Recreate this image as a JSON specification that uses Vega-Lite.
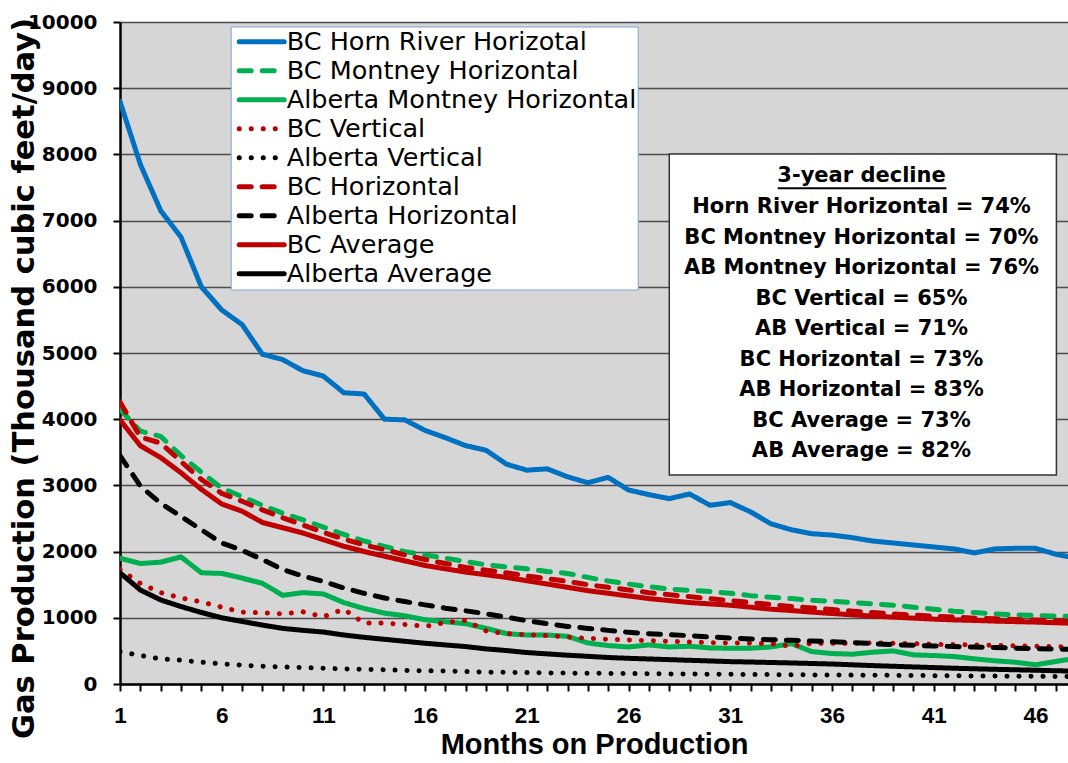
{
"$schema": "https://vega.github.io/schema/vega-lite/v6.json",
"width": 948,
"height": 662,
"autosize": {"type": "none"},
"padding": {"left": 120, "top": 22, "right": 0, "bottom": 79},
"background": "white",
"config": {
  "view": {"fill": "#d6d6d6", "stroke": null},
  "axis": {"labelOverlap": false, "labelFlush": false, "labelFontWeight": "bold", "labelColor": "black"},
  "axisX": {"labelFontSize": 22.5, "labelFont": "Liberation Sans"},
  "axisY": {"labelFontSize": 20, "labelFont": "DejaVu Sans"},
  "legend": {
    "title": null, "orient": "none", "legendX": 110.7, "legendY": 4.5, "direction": "vertical",
    "fillColor": "white", "strokeColor": "#7ea6d6", "padding": 1,
    "symbolType": "stroke", "symbolSize": 2025, "symbolOffset": 5, "symbolStrokeWidth": 5,
    "labelOffset": 0, "labelFont": "DejaVu Sans", "labelFontSize": 25.5, "labelColor": "black",
    "labelLimit": 600, "rowPadding": 0, "clipHeight": 28.7
  }
},
"layer": [
{
  "data": {"values": [
{"series":"BC Horn River Horizotal","month":1,"gas":8800},{"series":"BC Horn River Horizotal","month":2,"gas":7850},{"series":"BC Horn River Horizotal","month":3,"gas":7150},{"series":"BC Horn River Horizotal","month":4,"gas":6750},{"series":"BC Horn River Horizotal","month":5,"gas":6000},{"series":"BC Horn River Horizotal","month":6,"gas":5650},{"series":"BC Horn River Horizotal","month":7,"gas":5430},{"series":"BC Horn River Horizotal","month":8,"gas":4980},{"series":"BC Horn River Horizotal","month":9,"gas":4900},{"series":"BC Horn River Horizotal","month":10,"gas":4730},{"series":"BC Horn River Horizotal","month":11,"gas":4650},{"series":"BC Horn River Horizotal","month":12,"gas":4400},{"series":"BC Horn River Horizotal","month":13,"gas":4380},{"series":"BC Horn River Horizotal","month":14,"gas":4000},{"series":"BC Horn River Horizotal","month":15,"gas":3990},{"series":"BC Horn River Horizotal","month":16,"gas":3830},{"series":"BC Horn River Horizotal","month":17,"gas":3720},{"series":"BC Horn River Horizotal","month":18,"gas":3600},{"series":"BC Horn River Horizotal","month":19,"gas":3530},{"series":"BC Horn River Horizotal","month":20,"gas":3320},{"series":"BC Horn River Horizotal","month":21,"gas":3230},{"series":"BC Horn River Horizotal","month":22,"gas":3250},{"series":"BC Horn River Horizotal","month":23,"gas":3130},{"series":"BC Horn River Horizotal","month":24,"gas":3040},{"series":"BC Horn River Horizotal","month":25,"gas":3120},{"series":"BC Horn River Horizotal","month":26,"gas":2930},{"series":"BC Horn River Horizotal","month":27,"gas":2860},{"series":"BC Horn River Horizotal","month":28,"gas":2800},{"series":"BC Horn River Horizotal","month":29,"gas":2870},{"series":"BC Horn River Horizotal","month":30,"gas":2700},{"series":"BC Horn River Horizotal","month":31,"gas":2740},{"series":"BC Horn River Horizotal","month":32,"gas":2600},{"series":"BC Horn River Horizotal","month":33,"gas":2420},{"series":"BC Horn River Horizotal","month":34,"gas":2330},{"series":"BC Horn River Horizotal","month":35,"gas":2270},{"series":"BC Horn River Horizotal","month":36,"gas":2250},{"series":"BC Horn River Horizotal","month":37,"gas":2210},{"series":"BC Horn River Horizotal","month":38,"gas":2160},{"series":"BC Horn River Horizotal","month":39,"gas":2130},{"series":"BC Horn River Horizotal","month":40,"gas":2100},{"series":"BC Horn River Horizotal","month":41,"gas":2070},{"series":"BC Horn River Horizotal","month":42,"gas":2040},{"series":"BC Horn River Horizotal","month":43,"gas":1980},{"series":"BC Horn River Horizotal","month":44,"gas":2040},{"series":"BC Horn River Horizotal","month":45,"gas":2050},{"series":"BC Horn River Horizotal","month":46,"gas":2050},{"series":"BC Horn River Horizotal","month":47,"gas":1960},{"series":"BC Horn River Horizotal","month":48,"gas":1900},
{"series":"BC Montney Horizontal","month":1,"gas":4150},{"series":"BC Montney Horizontal","month":2,"gas":3820},{"series":"BC Montney Horizontal","month":3,"gas":3740},{"series":"BC Montney Horizontal","month":4,"gas":3450},{"series":"BC Montney Horizontal","month":5,"gas":3200},{"series":"BC Montney Horizontal","month":6,"gas":2960},{"series":"BC Montney Horizontal","month":7,"gas":2830},{"series":"BC Montney Horizontal","month":8,"gas":2700},{"series":"BC Montney Horizontal","month":9,"gas":2580},{"series":"BC Montney Horizontal","month":10,"gas":2480},{"series":"BC Montney Horizontal","month":11,"gas":2370},{"series":"BC Montney Horizontal","month":12,"gas":2260},{"series":"BC Montney Horizontal","month":13,"gas":2160},{"series":"BC Montney Horizontal","month":14,"gas":2080},{"series":"BC Montney Horizontal","month":15,"gas":2000},{"series":"BC Montney Horizontal","month":16,"gas":1950},{"series":"BC Montney Horizontal","month":17,"gas":1900},{"series":"BC Montney Horizontal","month":18,"gas":1850},{"series":"BC Montney Horizontal","month":19,"gas":1800},{"series":"BC Montney Horizontal","month":20,"gas":1770},{"series":"BC Montney Horizontal","month":21,"gas":1740},{"series":"BC Montney Horizontal","month":22,"gas":1700},{"series":"BC Montney Horizontal","month":23,"gas":1670},{"series":"BC Montney Horizontal","month":24,"gas":1610},{"series":"BC Montney Horizontal","month":25,"gas":1555},{"series":"BC Montney Horizontal","month":26,"gas":1510},{"series":"BC Montney Horizontal","month":27,"gas":1470},{"series":"BC Montney Horizontal","month":28,"gas":1435},{"series":"BC Montney Horizontal","month":29,"gas":1415},{"series":"BC Montney Horizontal","month":30,"gas":1398},{"series":"BC Montney Horizontal","month":31,"gas":1370},{"series":"BC Montney Horizontal","month":32,"gas":1335},{"series":"BC Montney Horizontal","month":33,"gas":1310},{"series":"BC Montney Horizontal","month":34,"gas":1290},{"series":"BC Montney Horizontal","month":35,"gas":1265},{"series":"BC Montney Horizontal","month":36,"gas":1250},{"series":"BC Montney Horizontal","month":37,"gas":1230},{"series":"BC Montney Horizontal","month":38,"gas":1210},{"series":"BC Montney Horizontal","month":39,"gas":1190},{"series":"BC Montney Horizontal","month":40,"gas":1160},{"series":"BC Montney Horizontal","month":41,"gas":1130},{"series":"BC Montney Horizontal","month":42,"gas":1100},{"series":"BC Montney Horizontal","month":43,"gas":1080},{"series":"BC Montney Horizontal","month":44,"gas":1060},{"series":"BC Montney Horizontal","month":45,"gas":1045},{"series":"BC Montney Horizontal","month":46,"gas":1035},{"series":"BC Montney Horizontal","month":47,"gas":1025},{"series":"BC Montney Horizontal","month":48,"gas":1020},
{"series":"Alberta Montney Horizontal","month":1,"gas":1900},{"series":"Alberta Montney Horizontal","month":2,"gas":1820},{"series":"Alberta Montney Horizontal","month":3,"gas":1840},{"series":"Alberta Montney Horizontal","month":4,"gas":1920},{"series":"Alberta Montney Horizontal","month":5,"gas":1680},{"series":"Alberta Montney Horizontal","month":6,"gas":1670},{"series":"Alberta Montney Horizontal","month":7,"gas":1600},{"series":"Alberta Montney Horizontal","month":8,"gas":1520},{"series":"Alberta Montney Horizontal","month":9,"gas":1340},{"series":"Alberta Montney Horizontal","month":10,"gas":1380},{"series":"Alberta Montney Horizontal","month":11,"gas":1360},{"series":"Alberta Montney Horizontal","month":12,"gas":1230},{"series":"Alberta Montney Horizontal","month":13,"gas":1140},{"series":"Alberta Montney Horizontal","month":14,"gas":1070},{"series":"Alberta Montney Horizontal","month":15,"gas":1030},{"series":"Alberta Montney Horizontal","month":16,"gas":970},{"series":"Alberta Montney Horizontal","month":17,"gas":940},{"series":"Alberta Montney Horizontal","month":18,"gas":910},{"series":"Alberta Montney Horizontal","month":19,"gas":840},{"series":"Alberta Montney Horizontal","month":20,"gas":760},{"series":"Alberta Montney Horizontal","month":21,"gas":740},{"series":"Alberta Montney Horizontal","month":22,"gas":740},{"series":"Alberta Montney Horizontal","month":23,"gas":720},{"series":"Alberta Montney Horizontal","month":24,"gas":620},{"series":"Alberta Montney Horizontal","month":25,"gas":580},{"series":"Alberta Montney Horizontal","month":26,"gas":560},{"series":"Alberta Montney Horizontal","month":27,"gas":590},{"series":"Alberta Montney Horizontal","month":28,"gas":560},{"series":"Alberta Montney Horizontal","month":29,"gas":570},{"series":"Alberta Montney Horizontal","month":30,"gas":545},{"series":"Alberta Montney Horizontal","month":31,"gas":540},{"series":"Alberta Montney Horizontal","month":32,"gas":540},{"series":"Alberta Montney Horizontal","month":33,"gas":560},{"series":"Alberta Montney Horizontal","month":34,"gas":610},{"series":"Alberta Montney Horizontal","month":35,"gas":490},{"series":"Alberta Montney Horizontal","month":36,"gas":460},{"series":"Alberta Montney Horizontal","month":37,"gas":450},{"series":"Alberta Montney Horizontal","month":38,"gas":480},{"series":"Alberta Montney Horizontal","month":39,"gas":500},{"series":"Alberta Montney Horizontal","month":40,"gas":440},{"series":"Alberta Montney Horizontal","month":41,"gas":430},{"series":"Alberta Montney Horizontal","month":42,"gas":415},{"series":"Alberta Montney Horizontal","month":43,"gas":380},{"series":"Alberta Montney Horizontal","month":44,"gas":350},{"series":"Alberta Montney Horizontal","month":45,"gas":330},{"series":"Alberta Montney Horizontal","month":46,"gas":290},{"series":"Alberta Montney Horizontal","month":47,"gas":340},{"series":"Alberta Montney Horizontal","month":48,"gas":390},
{"series":"BC Vertical","month":1,"gas":1730},{"series":"BC Vertical","month":2,"gas":1520},{"series":"BC Vertical","month":3,"gas":1380},{"series":"BC Vertical","month":4,"gas":1300},{"series":"BC Vertical","month":5,"gas":1240},{"series":"BC Vertical","month":6,"gas":1160},{"series":"BC Vertical","month":7,"gas":1085},{"series":"BC Vertical","month":8,"gas":1075},{"series":"BC Vertical","month":9,"gas":1060},{"series":"BC Vertical","month":10,"gas":1090},{"series":"BC Vertical","month":11,"gas":1015},{"series":"BC Vertical","month":12,"gas":1130},{"series":"BC Vertical","month":13,"gas":920},{"series":"BC Vertical","month":14,"gas":920},{"series":"BC Vertical","month":15,"gas":900},{"series":"BC Vertical","month":16,"gas":870},{"series":"BC Vertical","month":17,"gas":930},{"series":"BC Vertical","month":18,"gas":960},{"series":"BC Vertical","month":19,"gas":800},{"series":"BC Vertical","month":20,"gas":760},{"series":"BC Vertical","month":21,"gas":745},{"series":"BC Vertical","month":22,"gas":730},{"series":"BC Vertical","month":23,"gas":710},{"series":"BC Vertical","month":24,"gas":690},{"series":"BC Vertical","month":25,"gas":675},{"series":"BC Vertical","month":26,"gas":665},{"series":"BC Vertical","month":27,"gas":655},{"series":"BC Vertical","month":28,"gas":645},{"series":"BC Vertical","month":29,"gas":635},{"series":"BC Vertical","month":30,"gas":625},{"series":"BC Vertical","month":31,"gas":620},{"series":"BC Vertical","month":32,"gas":615},{"series":"BC Vertical","month":33,"gas":610},{"series":"BC Vertical","month":34,"gas":570},{"series":"BC Vertical","month":35,"gas":615},{"series":"BC Vertical","month":36,"gas":615},{"series":"BC Vertical","month":37,"gas":615},{"series":"BC Vertical","month":38,"gas":620},{"series":"BC Vertical","month":39,"gas":615},{"series":"BC Vertical","month":40,"gas":610},{"series":"BC Vertical","month":41,"gas":600},{"series":"BC Vertical","month":42,"gas":595},{"series":"BC Vertical","month":43,"gas":590},{"series":"BC Vertical","month":44,"gas":585},{"series":"BC Vertical","month":45,"gas":575},{"series":"BC Vertical","month":46,"gas":570},{"series":"BC Vertical","month":47,"gas":565},{"series":"BC Vertical","month":48,"gas":560},
{"series":"Alberta Vertical","month":1,"gas":490},{"series":"Alberta Vertical","month":2,"gas":430},{"series":"Alberta Vertical","month":3,"gas":380},{"series":"Alberta Vertical","month":4,"gas":360},{"series":"Alberta Vertical","month":5,"gas":330},{"series":"Alberta Vertical","month":6,"gas":305},{"series":"Alberta Vertical","month":7,"gas":285},{"series":"Alberta Vertical","month":8,"gas":268},{"series":"Alberta Vertical","month":9,"gas":258},{"series":"Alberta Vertical","month":10,"gas":248},{"series":"Alberta Vertical","month":11,"gas":238},{"series":"Alberta Vertical","month":12,"gas":228},{"series":"Alberta Vertical","month":13,"gas":222},{"series":"Alberta Vertical","month":14,"gas":215},{"series":"Alberta Vertical","month":15,"gas":205},{"series":"Alberta Vertical","month":16,"gas":200},{"series":"Alberta Vertical","month":17,"gas":195},{"series":"Alberta Vertical","month":18,"gas":188},{"series":"Alberta Vertical","month":19,"gas":180},{"series":"Alberta Vertical","month":20,"gas":176},{"series":"Alberta Vertical","month":21,"gas":172},{"series":"Alberta Vertical","month":22,"gas":168},{"series":"Alberta Vertical","month":23,"gas":165},{"series":"Alberta Vertical","month":24,"gas":162},{"series":"Alberta Vertical","month":25,"gas":160},{"series":"Alberta Vertical","month":26,"gas":158},{"series":"Alberta Vertical","month":27,"gas":155},{"series":"Alberta Vertical","month":28,"gas":152},{"series":"Alberta Vertical","month":29,"gas":150},{"series":"Alberta Vertical","month":30,"gas":148},{"series":"Alberta Vertical","month":31,"gas":146},{"series":"Alberta Vertical","month":32,"gas":144},{"series":"Alberta Vertical","month":33,"gas":142},{"series":"Alberta Vertical","month":34,"gas":140},{"series":"Alberta Vertical","month":35,"gas":138},{"series":"Alberta Vertical","month":36,"gas":136},{"series":"Alberta Vertical","month":37,"gas":134},{"series":"Alberta Vertical","month":38,"gas":132},{"series":"Alberta Vertical","month":39,"gas":130},{"series":"Alberta Vertical","month":40,"gas":128},{"series":"Alberta Vertical","month":41,"gas":126},{"series":"Alberta Vertical","month":42,"gas":124},{"series":"Alberta Vertical","month":43,"gas":122},{"series":"Alberta Vertical","month":44,"gas":120},{"series":"Alberta Vertical","month":45,"gas":118},{"series":"Alberta Vertical","month":46,"gas":116},{"series":"Alberta Vertical","month":47,"gas":114},{"series":"Alberta Vertical","month":48,"gas":112},
{"series":"BC Horizontal","month":1,"gas":4260},{"series":"BC Horizontal","month":2,"gas":3730},{"series":"BC Horizontal","month":3,"gas":3640},{"series":"BC Horizontal","month":4,"gas":3360},{"series":"BC Horizontal","month":5,"gas":3090},{"series":"BC Horizontal","month":6,"gas":2880},{"series":"BC Horizontal","month":7,"gas":2760},{"series":"BC Horizontal","month":8,"gas":2630},{"series":"BC Horizontal","month":9,"gas":2510},{"series":"BC Horizontal","month":10,"gas":2400},{"series":"BC Horizontal","month":11,"gas":2290},{"series":"BC Horizontal","month":12,"gas":2190},{"series":"BC Horizontal","month":13,"gas":2100},{"series":"BC Horizontal","month":14,"gas":2030},{"series":"BC Horizontal","month":15,"gas":1950},{"series":"BC Horizontal","month":16,"gas":1880},{"series":"BC Horizontal","month":17,"gas":1820},{"series":"BC Horizontal","month":18,"gas":1760},{"series":"BC Horizontal","month":19,"gas":1720},{"series":"BC Horizontal","month":20,"gas":1680},{"series":"BC Horizontal","month":21,"gas":1630},{"series":"BC Horizontal","month":22,"gas":1590},{"series":"BC Horizontal","month":23,"gas":1550},{"series":"BC Horizontal","month":24,"gas":1500},{"series":"BC Horizontal","month":25,"gas":1460},{"series":"BC Horizontal","month":26,"gas":1420},{"series":"BC Horizontal","month":27,"gas":1380},{"series":"BC Horizontal","month":28,"gas":1350},{"series":"BC Horizontal","month":29,"gas":1320},{"series":"BC Horizontal","month":30,"gas":1290},{"series":"BC Horizontal","month":31,"gas":1260},{"series":"BC Horizontal","month":32,"gas":1230},{"series":"BC Horizontal","month":33,"gas":1200},{"series":"BC Horizontal","month":34,"gas":1170},{"series":"BC Horizontal","month":35,"gas":1150},{"series":"BC Horizontal","month":36,"gas":1125},{"series":"BC Horizontal","month":37,"gas":1100},{"series":"BC Horizontal","month":38,"gas":1080},{"series":"BC Horizontal","month":39,"gas":1060},{"series":"BC Horizontal","month":40,"gas":1040},{"series":"BC Horizontal","month":41,"gas":1025},{"series":"BC Horizontal","month":42,"gas":1010},{"series":"BC Horizontal","month":43,"gas":995},{"series":"BC Horizontal","month":44,"gas":985},{"series":"BC Horizontal","month":45,"gas":975},{"series":"BC Horizontal","month":46,"gas":965},{"series":"BC Horizontal","month":47,"gas":955},{"series":"BC Horizontal","month":48,"gas":945},
{"series":"Alberta Horizontal","month":1,"gas":3450},{"series":"Alberta Horizontal","month":2,"gas":2990},{"series":"Alberta Horizontal","month":3,"gas":2730},{"series":"Alberta Horizontal","month":4,"gas":2530},{"series":"Alberta Horizontal","month":5,"gas":2330},{"series":"Alberta Horizontal","month":6,"gas":2130},{"series":"Alberta Horizontal","month":7,"gas":2020},{"series":"Alberta Horizontal","month":8,"gas":1880},{"series":"Alberta Horizontal","month":9,"gas":1730},{"series":"Alberta Horizontal","month":10,"gas":1630},{"series":"Alberta Horizontal","month":11,"gas":1550},{"series":"Alberta Horizontal","month":12,"gas":1450},{"series":"Alberta Horizontal","month":13,"gas":1370},{"series":"Alberta Horizontal","month":14,"gas":1300},{"series":"Alberta Horizontal","month":15,"gas":1245},{"series":"Alberta Horizontal","month":16,"gas":1195},{"series":"Alberta Horizontal","month":17,"gas":1145},{"series":"Alberta Horizontal","month":18,"gas":1105},{"series":"Alberta Horizontal","month":19,"gas":1060},{"series":"Alberta Horizontal","month":20,"gas":1010},{"series":"Alberta Horizontal","month":21,"gas":955},{"series":"Alberta Horizontal","month":22,"gas":910},{"series":"Alberta Horizontal","month":23,"gas":870},{"series":"Alberta Horizontal","month":24,"gas":840},{"series":"Alberta Horizontal","month":25,"gas":810},{"series":"Alberta Horizontal","month":26,"gas":780},{"series":"Alberta Horizontal","month":27,"gas":760},{"series":"Alberta Horizontal","month":28,"gas":745},{"series":"Alberta Horizontal","month":29,"gas":730},{"series":"Alberta Horizontal","month":30,"gas":710},{"series":"Alberta Horizontal","month":31,"gas":695},{"series":"Alberta Horizontal","month":32,"gas":680},{"series":"Alberta Horizontal","month":33,"gas":670},{"series":"Alberta Horizontal","month":34,"gas":660},{"series":"Alberta Horizontal","month":35,"gas":650},{"series":"Alberta Horizontal","month":36,"gas":640},{"series":"Alberta Horizontal","month":37,"gas":625},{"series":"Alberta Horizontal","month":38,"gas":610},{"series":"Alberta Horizontal","month":39,"gas":595},{"series":"Alberta Horizontal","month":40,"gas":585},{"series":"Alberta Horizontal","month":41,"gas":575},{"series":"Alberta Horizontal","month":42,"gas":565},{"series":"Alberta Horizontal","month":43,"gas":558},{"series":"Alberta Horizontal","month":44,"gas":550},{"series":"Alberta Horizontal","month":45,"gas":542},{"series":"Alberta Horizontal","month":46,"gas":535},{"series":"Alberta Horizontal","month":47,"gas":528},{"series":"Alberta Horizontal","month":48,"gas":520},
{"series":"BC Average","month":1,"gas":3990},{"series":"BC Average","month":2,"gas":3600},{"series":"BC Average","month":3,"gas":3420},{"series":"BC Average","month":4,"gas":3190},{"series":"BC Average","month":5,"gas":2940},{"series":"BC Average","month":6,"gas":2720},{"series":"BC Average","month":7,"gas":2610},{"series":"BC Average","month":8,"gas":2440},{"series":"BC Average","month":9,"gas":2360},{"series":"BC Average","month":10,"gas":2280},{"series":"BC Average","month":11,"gas":2180},{"series":"BC Average","month":12,"gas":2080},{"series":"BC Average","month":13,"gas":2000},{"series":"BC Average","month":14,"gas":1930},{"series":"BC Average","month":15,"gas":1860},{"series":"BC Average","month":16,"gas":1790},{"series":"BC Average","month":17,"gas":1740},{"series":"BC Average","month":18,"gas":1690},{"series":"BC Average","month":19,"gas":1650},{"series":"BC Average","month":20,"gas":1610},{"series":"BC Average","month":21,"gas":1560},{"series":"BC Average","month":22,"gas":1510},{"series":"BC Average","month":23,"gas":1460},{"series":"BC Average","month":24,"gas":1410},{"series":"BC Average","month":25,"gas":1370},{"series":"BC Average","month":26,"gas":1330},{"series":"BC Average","month":27,"gas":1290},{"series":"BC Average","month":28,"gas":1260},{"series":"BC Average","month":29,"gas":1230},{"series":"BC Average","month":30,"gas":1210},{"series":"BC Average","month":31,"gas":1190},{"series":"BC Average","month":32,"gas":1160},{"series":"BC Average","month":33,"gas":1130},{"series":"BC Average","month":34,"gas":1110},{"series":"BC Average","month":35,"gas":1085},{"series":"BC Average","month":36,"gas":1065},{"series":"BC Average","month":37,"gas":1045},{"series":"BC Average","month":38,"gas":1025},{"series":"BC Average","month":39,"gas":1010},{"series":"BC Average","month":40,"gas":995},{"series":"BC Average","month":41,"gas":980},{"series":"BC Average","month":42,"gas":968},{"series":"BC Average","month":43,"gas":960},{"series":"BC Average","month":44,"gas":950},{"series":"BC Average","month":45,"gas":942},{"series":"BC Average","month":46,"gas":935},{"series":"BC Average","month":47,"gas":925},{"series":"BC Average","month":48,"gas":915},
{"series":"Alberta Average","month":1,"gas":1680},{"series":"Alberta Average","month":2,"gas":1420},{"series":"Alberta Average","month":3,"gas":1270},{"series":"Alberta Average","month":4,"gas":1170},{"series":"Alberta Average","month":5,"gas":1080},{"series":"Alberta Average","month":6,"gas":1000},{"series":"Alberta Average","month":7,"gas":945},{"series":"Alberta Average","month":8,"gas":890},{"series":"Alberta Average","month":9,"gas":840},{"series":"Alberta Average","month":10,"gas":810},{"series":"Alberta Average","month":11,"gas":785},{"series":"Alberta Average","month":12,"gas":740},{"series":"Alberta Average","month":13,"gas":705},{"series":"Alberta Average","month":14,"gas":675},{"series":"Alberta Average","month":15,"gas":645},{"series":"Alberta Average","month":16,"gas":615},{"series":"Alberta Average","month":17,"gas":590},{"series":"Alberta Average","month":18,"gas":565},{"series":"Alberta Average","month":19,"gas":530},{"series":"Alberta Average","month":20,"gas":505},{"series":"Alberta Average","month":21,"gas":475},{"series":"Alberta Average","month":22,"gas":455},{"series":"Alberta Average","month":23,"gas":435},{"series":"Alberta Average","month":24,"gas":418},{"series":"Alberta Average","month":25,"gas":400},{"series":"Alberta Average","month":26,"gas":388},{"series":"Alberta Average","month":27,"gas":378},{"series":"Alberta Average","month":28,"gas":368},{"series":"Alberta Average","month":29,"gas":358},{"series":"Alberta Average","month":30,"gas":348},{"series":"Alberta Average","month":31,"gas":338},{"series":"Alberta Average","month":32,"gas":332},{"series":"Alberta Average","month":33,"gas":325},{"series":"Alberta Average","month":34,"gas":318},{"series":"Alberta Average","month":35,"gas":310},{"series":"Alberta Average","month":36,"gas":302},{"series":"Alberta Average","month":37,"gas":290},{"series":"Alberta Average","month":38,"gas":278},{"series":"Alberta Average","month":39,"gas":268},{"series":"Alberta Average","month":40,"gas":258},{"series":"Alberta Average","month":41,"gas":248},{"series":"Alberta Average","month":42,"gas":238},{"series":"Alberta Average","month":43,"gas":230},{"series":"Alberta Average","month":44,"gas":222},{"series":"Alberta Average","month":45,"gas":215},{"series":"Alberta Average","month":46,"gas":208},{"series":"Alberta Average","month":47,"gas":200},{"series":"Alberta Average","month":48,"gas":195}
  ]},
  "mark": {"type": "line", "clip": true, "strokeCap": "round", "strokeJoin": "round"},
  "encoding": {
    "x": {"field": "month", "type": "quantitative",
      "scale": {"domain": [1, 47.6], "nice": false, "zero": false},
      "axis": {"values": [1,2,3,4,5,6,7,8,9,10,11,12,13,14,15,16,17,18,19,20,21,22,23,24,25,26,27,28,29,30,31,32,33,34,35,36,37,38,39,40,41,42,43,44,45,46,47], "labelExpr": "(datum.value - 1) % 5 === 0 ? datum.label : ''", "title": "Months on Production", "titleFont": "Liberation Sans", "titleFontSize": 29, "titleFontWeight": "bold", "titleColor": "black", "titleBaseline": "alphabetic", "titleY": 69, "labelFont": "Liberation Sans", "labelFontSize": 22.5, "labelFontWeight": "bold", "labelColor": "black", "labelBaseline": "alphabetic", "labelPadding": 31.5, "labelFlush": false, "labelOverlap": false, "tickSize": 7, "tickWidth": 2, "tickColor": "black", "domainColor": "black", "domainWidth": 2.5, "grid": false}
    },
    "y": {"field": "gas", "type": "quantitative",
      "scale": {"domain": [0, 10000], "nice": false},
      "axis": {"values": [0,1000,2000,3000,4000,5000,6000,7000,8000,9000,10000], "format": "d", "title": "Gas Production (Thousand cubic feet/day)", "titleFont": "DejaVu Sans", "titleFontSize": 30.5, "titleFontWeight": "bold", "titleColor": "black", "titleBaseline": "alphabetic", "titleX": -87, "titleY": 356, "titleAlign": "center", "titleAngle": 270, "labelFont": "DejaVu Sans", "labelFontSize": 20, "labelFontWeight": "bold", "labelColor": "black", "labelPadding": 16, "labelOverlap": false, "tickSize": 7, "tickWidth": 2, "tickColor": "black", "domainColor": "black", "domainWidth": 2.5, "grid": true, "gridColor": "#4d4d4d", "gridWidth": 1.5}
    },
    "color": {"field": "series", "type": "nominal",
      "sort": ["BC Horn River Horizotal","BC Montney Horizontal","Alberta Montney Horizontal","BC Vertical","Alberta Vertical","BC Horizontal","Alberta Horizontal","BC Average","Alberta Average"],
      "scale": {"domain": ["BC Horn River Horizotal","BC Montney Horizontal","Alberta Montney Horizontal","BC Vertical","Alberta Vertical","BC Horizontal","Alberta Horizontal","BC Average","Alberta Average"],
        "range": ["#0070C0","#00B050","#00B050","#C00000","#000000","#C00000","#000000","#C00000","#000000"]},
      "legend": {"encode": {"symbols": {"update": {"strokeWidth": {"value": 5}, "strokeCap": {"value": "round"}}}}}
    },
    "strokeDash": {"field": "series", "type": "nominal",
      "sort": ["BC Horn River Horizotal","BC Montney Horizontal","Alberta Montney Horizontal","BC Vertical","Alberta Vertical","BC Horizontal","Alberta Horizontal","BC Average","Alberta Average"],
      "scale": {"domain": ["BC Horn River Horizotal","BC Montney Horizontal","Alberta Montney Horizontal","BC Vertical","Alberta Vertical","BC Horizontal","Alberta Horizontal","BC Average","Alberta Average"],
        "range": [[1,0],[12,11],[1,0],[0.1,11.9],[0.1,11.9],[12,11],[12,11],[1,0],[1,0]]},
      "legend": {"encode": {"symbols": {"update": {"strokeWidth": {"value": 5}, "strokeCap": {"value": "round"}}}}}
    },
    "strokeWidth": {"field": "series", "type": "nominal",
      "scale": {"domain": ["BC Horn River Horizotal","BC Montney Horizontal","Alberta Montney Horizontal","BC Vertical","Alberta Vertical","BC Horizontal","Alberta Horizontal","BC Average","Alberta Average"],
        "range": [5,5,5,5,5,5,5,7,6]},
      "legend": null
    }
  }
},
{
  "data": {"values": [{"box": "3-year decline"}]},
  "mark": {"type": "rect", "fill": "white", "stroke": "#333333", "strokeWidth": 1.5},
  "encoding": {
    "x": {"datum": 28.0, "type": "quantitative",
      "axis": {"values": [1,2,3,4,5,6,7,8,9,10,11,12,13,14,15,16,17,18,19,20,21,22,23,24,25,26,27,28,29,30,31,32,33,34,35,36,37,38,39,40,41,42,43,44,45,46,47], "labelExpr": "(datum.value - 1) % 5 === 0 ? datum.label : ''", "title": "Months on Production", "titleFont": "Liberation Sans", "titleFontSize": 29, "titleFontWeight": "bold", "titleColor": "black", "titleBaseline": "alphabetic", "titleY": 69, "labelFont": "Liberation Sans", "labelFontSize": 22.5, "labelFontWeight": "bold", "labelColor": "black", "labelBaseline": "alphabetic", "labelPadding": 31.5, "labelFlush": false, "labelOverlap": false, "tickSize": 7, "tickWidth": 2, "tickColor": "black", "domainColor": "black", "domainWidth": 2.5, "grid": false}},
    "x2": {"datum": 47.03},
    "y": {"datum": 8006, "type": "quantitative",
      "axis": {"values": [0,1000,2000,3000,4000,5000,6000,7000,8000,9000,10000], "format": "d", "title": "Gas Production (Thousand cubic feet/day)", "titleFont": "DejaVu Sans", "titleFontSize": 30.5, "titleFontWeight": "bold", "titleColor": "black", "titleBaseline": "alphabetic", "titleX": -87, "titleY": 356, "titleAlign": "center", "titleAngle": 270, "labelFont": "DejaVu Sans", "labelFontSize": 20, "labelFontWeight": "bold", "labelColor": "black", "labelPadding": 16, "labelOverlap": false, "tickSize": 7, "tickWidth": 2, "tickColor": "black", "domainColor": "black", "domainWidth": 2.5, "grid": true, "gridColor": "#4d4d4d", "gridWidth": 1.5}},
    "y2": {"datum": 3157}
  }
},
{
  "data": {"values": [{"note": "3-year decline"}]},
  "mark": {"type": "text", "font": "DejaVu Sans", "fontSize": 21, "fontWeight": "bold", "color": "black", "align": "center", "baseline": "middle"},
  "encoding": {
    "x": {"datum": 37.45, "type": "quantitative",
      "axis": {"values": [1,2,3,4,5,6,7,8,9,10,11,12,13,14,15,16,17,18,19,20,21,22,23,24,25,26,27,28,29,30,31,32,33,34,35,36,37,38,39,40,41,42,43,44,45,46,47], "labelExpr": "(datum.value - 1) % 5 === 0 ? datum.label : ''", "title": "Months on Production", "titleFont": "Liberation Sans", "titleFontSize": 29, "titleFontWeight": "bold", "titleColor": "black", "titleBaseline": "alphabetic", "titleY": 69, "labelFont": "Liberation Sans", "labelFontSize": 22.5, "labelFontWeight": "bold", "labelColor": "black", "labelBaseline": "alphabetic", "labelPadding": 31.5, "labelFlush": false, "labelOverlap": false, "tickSize": 7, "tickWidth": 2, "tickColor": "black", "domainColor": "black", "domainWidth": 2.5, "grid": false}},
    "y": {"datum": 7674, "type": "quantitative",
      "axis": {"values": [0,1000,2000,3000,4000,5000,6000,7000,8000,9000,10000], "format": "d", "title": "Gas Production (Thousand cubic feet/day)", "titleFont": "DejaVu Sans", "titleFontSize": 30.5, "titleFontWeight": "bold", "titleColor": "black", "titleBaseline": "alphabetic", "titleX": -87, "titleY": 356, "titleAlign": "center", "titleAngle": 270, "labelFont": "DejaVu Sans", "labelFontSize": 20, "labelFontWeight": "bold", "labelColor": "black", "labelPadding": 16, "labelOverlap": false, "tickSize": 7, "tickWidth": 2, "tickColor": "black", "domainColor": "black", "domainWidth": 2.5, "grid": true, "gridColor": "#4d4d4d", "gridWidth": 1.5}},
    "text": {"field": "note"}
  }
},
{
  "data": {"values": [{"note": "3-year decline"}]},
  "mark": {"type": "rule", "color": "black", "strokeWidth": 2},
  "encoding": {
    "x": {"datum": 33.33, "type": "quantitative",
      "axis": {"values": [1,2,3,4,5,6,7,8,9,10,11,12,13,14,15,16,17,18,19,20,21,22,23,24,25,26,27,28,29,30,31,32,33,34,35,36,37,38,39,40,41,42,43,44,45,46,47], "labelExpr": "(datum.value - 1) % 5 === 0 ? datum.label : ''", "title": "Months on Production", "titleFont": "Liberation Sans", "titleFontSize": 29, "titleFontWeight": "bold", "titleColor": "black", "titleBaseline": "alphabetic", "titleY": 69, "labelFont": "Liberation Sans", "labelFontSize": 22.5, "labelFontWeight": "bold", "labelColor": "black", "labelBaseline": "alphabetic", "labelPadding": 31.5, "labelFlush": false, "labelOverlap": false, "tickSize": 7, "tickWidth": 2, "tickColor": "black", "domainColor": "black", "domainWidth": 2.5, "grid": false}},
    "x2": {"datum": 41.62},
    "y": {"datum": 7488, "type": "quantitative",
      "axis": {"values": [0,1000,2000,3000,4000,5000,6000,7000,8000,9000,10000], "format": "d", "title": "Gas Production (Thousand cubic feet/day)", "titleFont": "DejaVu Sans", "titleFontSize": 30.5, "titleFontWeight": "bold", "titleColor": "black", "titleBaseline": "alphabetic", "titleX": -87, "titleY": 356, "titleAlign": "center", "titleAngle": 270, "labelFont": "DejaVu Sans", "labelFontSize": 20, "labelFontWeight": "bold", "labelColor": "black", "labelPadding": 16, "labelOverlap": false, "tickSize": 7, "tickWidth": 2, "tickColor": "black", "domainColor": "black", "domainWidth": 2.5, "grid": true, "gridColor": "#4d4d4d", "gridWidth": 1.5}}
  }
},
{
  "data": {"values": [{"note": "Horn River Horizontal = 74%\nBC Montney Horizontal = 70%\nAB Montney Horizontal = 76%\nBC Vertical = 65%\nAB Vertical = 71%\nBC Horizontal = 73%\nAB Horizontal = 83%\nBC Average = 73%\nAB Average = 82%"}]},
  "mark": {"type": "text", "font": "DejaVu Sans", "fontSize": 21, "fontWeight": "bold", "color": "black", "align": "center", "baseline": "middle", "lineBreak": "\n", "lineHeight": 30.5},
  "encoding": {
    "x": {"datum": 37.45, "type": "quantitative",
      "axis": {"values": [1,2,3,4,5,6,7,8,9,10,11,12,13,14,15,16,17,18,19,20,21,22,23,24,25,26,27,28,29,30,31,32,33,34,35,36,37,38,39,40,41,42,43,44,45,46,47], "labelExpr": "(datum.value - 1) % 5 === 0 ? datum.label : ''", "title": "Months on Production", "titleFont": "Liberation Sans", "titleFontSize": 29, "titleFontWeight": "bold", "titleColor": "black", "titleBaseline": "alphabetic", "titleY": 69, "labelFont": "Liberation Sans", "labelFontSize": 22.5, "labelFontWeight": "bold", "labelColor": "black", "labelBaseline": "alphabetic", "labelPadding": 31.5, "labelFlush": false, "labelOverlap": false, "tickSize": 7, "tickWidth": 2, "tickColor": "black", "domainColor": "black", "domainWidth": 2.5, "grid": false}},
    "y": {"datum": 7201, "type": "quantitative",
      "axis": {"values": [0,1000,2000,3000,4000,5000,6000,7000,8000,9000,10000], "format": "d", "title": "Gas Production (Thousand cubic feet/day)", "titleFont": "DejaVu Sans", "titleFontSize": 30.5, "titleFontWeight": "bold", "titleColor": "black", "titleBaseline": "alphabetic", "titleX": -87, "titleY": 356, "titleAlign": "center", "titleAngle": 270, "labelFont": "DejaVu Sans", "labelFontSize": 20, "labelFontWeight": "bold", "labelColor": "black", "labelPadding": 16, "labelOverlap": false, "tickSize": 7, "tickWidth": 2, "tickColor": "black", "domainColor": "black", "domainWidth": 2.5, "grid": true, "gridColor": "#4d4d4d", "gridWidth": 1.5}},
    "text": {"field": "note"}
  }
}
]
}
